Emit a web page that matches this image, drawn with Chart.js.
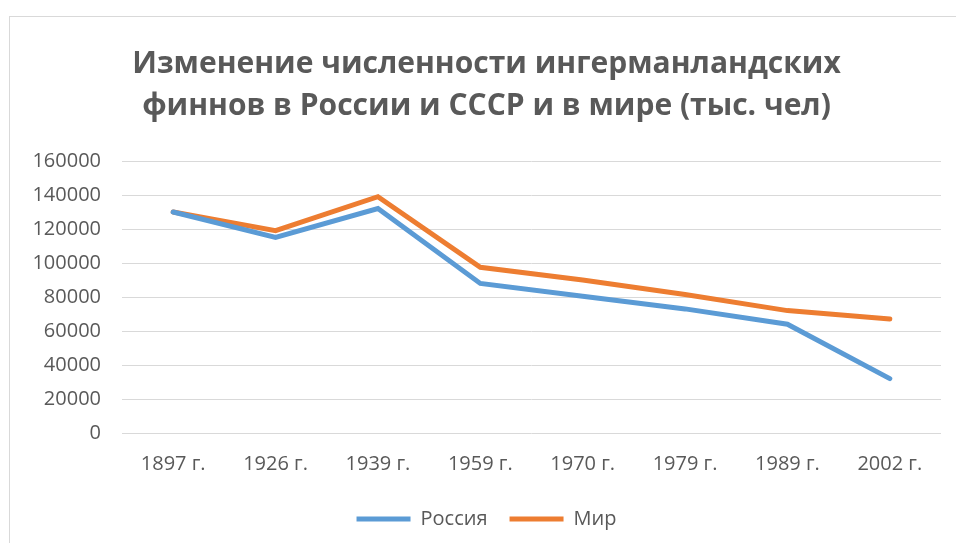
<!DOCTYPE html>
<html>
<head>
<meta charset="utf-8">
<script src="https://cdn.jsdelivr.net/npm/chart.js@4.4.0/dist/chart.umd.min.js"></script>
<style>
  html, body { margin: 0; padding: 0; background: #fff; overflow: hidden; }
  #frame { position: absolute; left: 9px; top: 16px; width: 1000px; height: 600px; border: 1px solid #d9d9d9; }
  #wrap { position: absolute; left: 0; top: 0; width: 1000px; height: 543px; }
</style>
</head>
<body>
<div id="frame"></div>
<div id="wrap"><canvas id="line-chart"></canvas></div>
<script>
const years = ['1897 г.', '1926 г.', '1939 г.', '1959 г.', '1970 г.', '1979 г.', '1989 г.', '2002 г.'];
const russia = [130000, 115000, 132000, 88000, 80500, 73000, 64000, 32000];
const world = [130000, 119000, 139000, 97500, 90000, 81500, 72000, 67000];

const grey = '#595959';

let config = {
  type: 'line',
  data: {
    labels: years,
    datasets: [{
      label: 'Россия',
      data: russia,
      borderColor: '#5b9bd5',
      backgroundColor: '#5b9bd5',
      borderWidth: 5,
      borderCapStyle: 'round',
      pointRadius: 0,
      tension: 0
    }, {
      label: 'Мир',
      data: world,
      borderColor: '#ed7d31',
      backgroundColor: '#ed7d31',
      borderWidth: 5,
      borderCapStyle: 'round',
      pointRadius: 0,
      tension: 0
    }]
  },
  options: {
    responsive: true,
    maintainAspectRatio: false,
    animation: false,
    layout: { padding: { left: 32, right: 59, bottom: 4 } },
    plugins: {
      title: {
        display: true,
        text: ['Изменение численности ингерманландских', 'финнов в России и СССР и в мире (тыс. чел)'],
        color: grey,
        font: { family: 'Open Sans', size: 30, weight: 'bold', lineHeight: 1.4 },
        padding: { top: 43, bottom: 34 }
      },
      legend: {
        position: 'bottom',
        labels: {
          color: grey,
          font: { family: 'Open Sans', size: 20 },
          usePointStyle: true,
          pointStyle: 'line',
          pointStyleWidth: 54,
          padding: 22
        }
      },
      tooltip: { enabled: false }
    },
    scales: {
      x: {
        offset: true,
        grid: { display: false },
        border: { display: false },
        ticks: { color: grey, font: { family: 'Open Sans', size: 20 }, padding: 11, maxRotation: 0 }
      },
      y: {
        min: 0,
        max: 160000,
        afterFit: (scale) => { scale.width = 90; },
        grid: { color: '#d9d9d9', lineWidth: 1, drawTicks: false },
        border: { display: false },
        ticks: {
          stepSize: 20000,
          color: grey,
          font: { family: 'Open Sans', size: 20 },
          padding: 21,
          callback: (v) => String(v)
        }
      }
    }
  }
};
let ctx = document.getElementById('line-chart').getContext('2d');
window.myLine = new Chart(ctx, config);
</script>
</body>
</html>
